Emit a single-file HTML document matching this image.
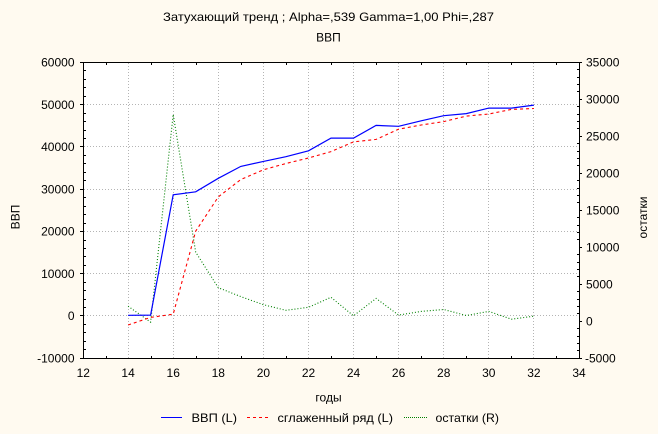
<!DOCTYPE html>
<html><head><meta charset="utf-8"><style>
html,body{margin:0;padding:0;background:#FFFAF0;}
svg{display:block;font-family:"Liberation Sans","DejaVu Sans",sans-serif;}
</style></head><body>
<svg width="658" height="434" viewBox="0 0 658 434" xmlns="http://www.w3.org/2000/svg">
<rect x="0" y="0" width="658" height="434" fill="#FFFAF0"/>
<text x="163" y="21" font-size="12" textLength="331" lengthAdjust="spacingAndGlyphs" fill="#000">Затухающий тренд ; Alpha=,539 Gamma=1,00 Phi=,287</text>
<text x="328.5" y="41.5" font-size="12" text-anchor="middle" fill="#000">ВВП</text>
<rect x="83.5" y="62.5" width="496" height="296" fill="#FFFFFF"/>
<g stroke="#B4B4B4" stroke-width="1" stroke-dasharray="1,2" shape-rendering="crispEdges">
<line x1="128.5" y1="63" x2="128.5" y2="358"/>
<line x1="173.5" y1="63" x2="173.5" y2="358"/>
<line x1="218.5" y1="63" x2="218.5" y2="358"/>
<line x1="263.5" y1="63" x2="263.5" y2="358"/>
<line x1="308.5" y1="63" x2="308.5" y2="358"/>
<line x1="353.5" y1="63" x2="353.5" y2="358"/>
<line x1="398.5" y1="63" x2="398.5" y2="358"/>
<line x1="443.5" y1="63" x2="443.5" y2="358"/>
<line x1="488.5" y1="63" x2="488.5" y2="358"/>
<line x1="533.5" y1="63" x2="533.5" y2="358"/>
<line x1="84" y1="104.5" x2="579" y2="104.5"/>
<line x1="84" y1="146.5" x2="579" y2="146.5"/>
<line x1="84" y1="189.5" x2="579" y2="189.5"/>
<line x1="84" y1="231.5" x2="579" y2="231.5"/>
<line x1="84" y1="273.5" x2="579" y2="273.5"/>
<line x1="84" y1="315.5" x2="579" y2="315.5"/>
</g>
<polyline fill="none" stroke="#008000" stroke-width="1.1" stroke-dasharray="1,2" points="128.1,306.2 150.6,322.1 173.2,114.5 195.7,252.2 218.3,287.7 240.8,296.6 263.4,304.7 285.9,310.3 308.5,307.3 331,297.3 353.5,315.8 376.1,298.4 398.6,315.1 421.2,311.4 443.7,309.5 466.3,315.5 488.8,311.4 511.4,319.2 533.9,316.2"/>
<polyline fill="none" stroke="#FF0000" stroke-width="1.1" stroke-dasharray="3,3" points="128.1,325 150.6,317.4 173.2,314.2 195.7,231.1 218.3,196.9 240.8,179.5 263.4,169.8 285.9,163.5 308.5,158 331,151.6 353.5,141.9 376.1,139.4 398.6,129.2 421.2,125 443.7,121.6 466.3,116.1 488.8,114 511.4,109.4 533.9,108.5"/>
<polyline fill="none" stroke="#0000FF" stroke-width="1.2" points="128.1,315.3 150.6,315.1 173.2,194.8 195.7,191.8 218.3,178.3 240.8,166.4 263.4,161.4 285.9,156.7 308.5,150.8 331,138.1 353.5,138.1 376.1,125.4 398.6,126.3 421.2,120.8 443.7,115.7 466.3,113.6 488.8,108.1 511.4,108.1 533.9,105.1"/>
<rect x="83.5" y="62.5" width="496" height="296" fill="none" stroke="#000" stroke-width="1" shape-rendering="crispEdges"/>
<g stroke="#000" stroke-width="1" shape-rendering="crispEdges">
<path d="M84 70.5h2M84 79.5h2M84 87.5h2M84 96.5h2M84 113.5h2M84 121.5h2M84 130.5h2M84 138.5h2M84 155.5h2M84 163.5h2M84 172.5h2M84 180.5h2M84 197.5h2M84 206.5h2M84 214.5h2M84 223.5h2M84 240.5h2M84 248.5h2M84 256.5h2M84 265.5h2M84 282.5h2M84 290.5h2M84 299.5h2M84 307.5h2M84 324.5h2M84 332.5h2M84 341.5h2M84 349.5h2"/>
<path d="M577 69.5h2M577 77.5h2M577 84.5h2M577 91.5h2M577 106.5h2M577 114.5h2M577 121.5h2M577 128.5h2M577 143.5h2M577 151.5h2M577 158.5h2M577 165.5h2M577 180.5h2M577 188.5h2M577 195.5h2M577 202.5h2M577 217.5h2M577 225.5h2M577 232.5h2M577 239.5h2M577 254.5h2M577 262.5h2M577 269.5h2M577 276.5h2M577 291.5h2M577 299.5h2M577 306.5h2M577 313.5h2M577 328.5h2M577 336.5h2M577 343.5h2M577 350.5h2"/>
<path d="M579 62.5h3M579 99.5h3M579 136.5h3M579 173.5h3M579 210.5h3M579 247.5h3M579 284.5h3M579 321.5h3M579 358.5h3"/>
<path d="M80 62.5h3M80 104.5h3M80 146.5h3M80 189.5h3M80 231.5h3M80 273.5h3M80 315.5h3M80 358.5h3"/>
<path d="M106.5 356v2M151.5 356v2M196.5 356v2M241.5 356v2M286.5 356v2M331.5 356v2M376.5 356v2M421.5 356v2M466.5 356v2M511.5 356v2M556.5 356v2"/>
<path d="M106.5 63v2M151.5 63v2M196.5 63v2M241.5 63v2M286.5 63v2M331.5 63v2M376.5 63v2M421.5 63v2M466.5 63v2M511.5 63v2M556.5 63v2"/>
</g>
<g font-size="12" fill="#000" text-anchor="end">
<text x="74.5" y="66.5">60000</text>
<text x="74.5" y="108.8">50000</text>
<text x="74.5" y="151.1">40000</text>
<text x="74.5" y="193.4">30000</text>
<text x="74.5" y="235.6">20000</text>
<text x="74.5" y="277.9">10000</text>
<text x="74.5" y="320.2">0</text>
<text x="74.5" y="362.5">-10000</text>
</g>
<g font-size="12" fill="#000" text-anchor="start">
<text x="586" y="66.5">35000</text>
<text x="586" y="103.5">30000</text>
<text x="586" y="140.5">25000</text>
<text x="586" y="177.5">20000</text>
<text x="586" y="214.5">15000</text>
<text x="586" y="251.5">10000</text>
<text x="586" y="288.5">5000</text>
<text x="586" y="325.5">0</text>
<text x="585" y="362.5">-5000</text>
</g>
<g font-size="12" fill="#000" text-anchor="middle">
<text x="83.3" y="377">12</text>
<text x="128.1" y="377">14</text>
<text x="173.2" y="377">16</text>
<text x="218.3" y="377">18</text>
<text x="263.4" y="377">20</text>
<text x="308.5" y="377">22</text>
<text x="353.5" y="377">24</text>
<text x="398.6" y="377">26</text>
<text x="443.7" y="377">28</text>
<text x="488.8" y="377">30</text>
<text x="533.9" y="377">32</text>
<text x="579" y="377">34</text>
</g>
<text transform="translate(19.5,217) rotate(-90)" font-size="12" text-anchor="middle" fill="#000">ВВП</text>
<text transform="translate(647,217.5) rotate(-90)" font-size="12" text-anchor="middle" fill="#000">остатки</text>
<text x="328.5" y="401.5" font-size="12" text-anchor="middle" fill="#000">годы</text>
<line x1="161" y1="417.5" x2="182" y2="417.5" stroke="#0000FF" stroke-width="1" shape-rendering="crispEdges"/>
<text x="191.5" y="422" font-size="12" textLength="45.5" lengthAdjust="spacingAndGlyphs" fill="#000">ВВП (L)</text>
<line x1="247" y1="417.5" x2="268" y2="417.5" stroke="#FF0000" stroke-width="1" stroke-dasharray="3,3" shape-rendering="crispEdges"/>
<text x="277.5" y="422" font-size="12" textLength="115.5" lengthAdjust="spacingAndGlyphs" fill="#000">сглаженный ряд (L)</text>
<line x1="404" y1="417.5" x2="427" y2="417.5" stroke="#008000" stroke-width="1" stroke-dasharray="1,1" shape-rendering="crispEdges"/>
<text x="435.5" y="422" font-size="12" textLength="63.5" lengthAdjust="spacingAndGlyphs" fill="#000">остатки (R)</text>
</svg>
</body></html>
